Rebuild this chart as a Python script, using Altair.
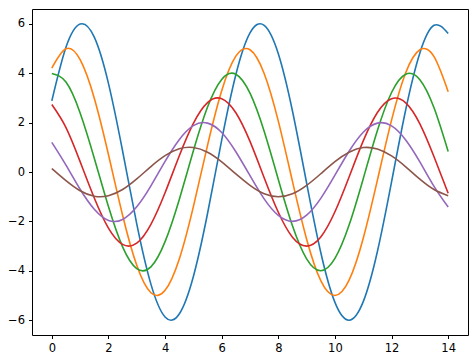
import altair as alt
import pandas as pd

x_vals = [0, 0.5, 1, 1.5, 2, 2.5, 3, 3.5, 4, 4.5, 5, 5.5, 6, 6.5, 7, 7.5, 8, 8.5,
          9, 9.5, 10, 10.5, 11, 11.5, 12, 12.5, 13, 13.5, 14]

s1 = [2.88, 5.05, 5.99, 5.46, 3.59, 0.85, -2.10, -4.54, -5.87, -5.75, -4.23, -1.68, 1.29,
      3.94, 5.63, 5.94, 4.79, 2.47, -0.45, -3.26, -5.28, -6.00, -5.25, -3.22, -0.40, 2.52,
      4.82, 5.94, 5.61]
s2 = [4.21, 4.99, 4.55, 2.99, 0.71, -1.75, -3.78, -4.89, -4.79, -3.53, -1.40, 1.08, 3.29,
      4.69, 4.95, 3.99, 2.06, -0.38, -2.72, -4.40, -5.00, -4.38, -2.68, -0.33, 2.10, 4.02,
      4.95, 4.67, 3.25]
s3 = [3.99, 3.64, 2.39, 0.56, -1.40, -3.03, -3.91, -3.84, -2.82, -1.12, 0.86, 2.63, 3.75,
      3.96, 3.19, 1.65, -0.30, -2.18, -3.52, -4.00, -3.50, -2.15, -0.27, 1.68, 3.22, 3.96,
      3.74, 2.60, 0.83]
s4 = [2.73, 1.80, 0.42, -1.05, -2.27, -2.93, -2.88, -2.12, -0.84, 0.65, 1.97, 2.81, 2.97,
      2.40, 1.24, -0.23, -1.63, -2.64, -3.00, -2.63, -1.61, -0.20, 1.26, 2.41, 2.97, 2.80,
      1.95, 0.62, -0.86]
s5 = [1.20, 0.28, -0.70, -1.51, -1.96, -1.92, -1.41, -0.56, 0.43, 1.31, 1.88, 1.98, 1.60,
      0.82, -0.15, -1.09, -1.76, -2.00, -1.75, -1.07, -0.13, 0.84, 1.61, 1.98, 1.87, 1.30,
      0.41, -0.58, -1.42]
s6 = [0.14, -0.35, -0.76, -0.98, -0.96, -0.71, -0.28, 0.22, 0.66, 0.94, 0.99, 0.80, 0.41,
      -0.08, -0.54, -0.88, -1.00, -0.88, -0.54, -0.07, 0.42, 0.80, 0.99, 0.93, 0.65, 0.21,
      -0.29, -0.71, -0.96]

series_names = ["s1", "s2", "s3", "s4", "s5", "s6"]
series_values = [s1, s2, s3, s4, s5, s6]
colors = ["#1f77b4", "#ff7f0e", "#2ca02c", "#d62728", "#9467bd", "#8c564b"]
x_ticks = [0, 2, 4, 6, 8, 10, 12, 14]
y_ticks = [-6, -4, -2, 0, 2, 4, 6]

rows = []
for order, (name, vals) in enumerate(zip(series_names, series_values)):
    for xv, yv in zip(x_vals, vals):
        rows.append({"series": name, "order": order, "x": xv, "y": yv})
df = pd.DataFrame(rows)

axis_common = dict(
    grid=False,
    domain=False,
    tickColor="black",
    tickSize=3.5,
    tickWidth=1,
    labelColor="black",
    labelFont="DejaVu Sans",
    labelFontSize=11.5,
    labelPadding=4,
    title=None,
)

chart = alt.Chart(df).mark_line(strokeWidth=1.6, interpolate="natural").encode(
    x=alt.X("x:Q", scale=alt.Scale(domain=[-0.7, 14.7], nice=False, zero=False),
            axis=alt.Axis(values=x_ticks, format="d", **axis_common)),
    y=alt.Y("y:Q", scale=alt.Scale(domain=[-6.6, 6.6], nice=False, zero=False),
            axis=alt.Axis(values=y_ticks, format="d", **axis_common)),
    color=alt.Color("series:N", scale=alt.Scale(domain=series_names, range=colors), legend=None),
    order=alt.Order("order:Q"),
).properties(
    width=436,
    height=326,
    autosize=alt.AutoSizeParams(type="none"),
    padding={"left": 32, "top": 9, "right": 8, "bottom": 24},
    background="white",
).configure_view(stroke="black", strokeWidth=1)

chart.save("out.html", embed_options={"renderer": "svg", "actions": False})
